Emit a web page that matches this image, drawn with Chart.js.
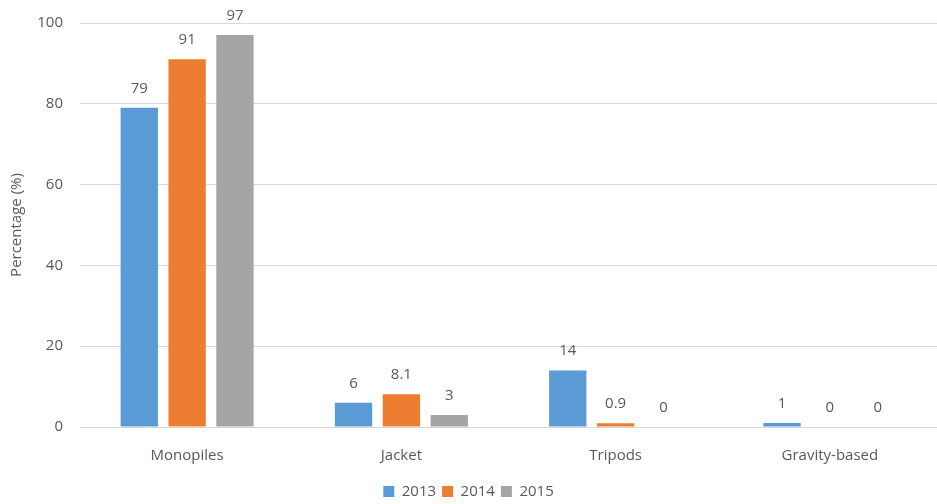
<!DOCTYPE html>
<html>
<head>
<meta charset="utf-8">
<script src="https://cdn.jsdelivr.net/npm/chart.js@4/dist/chart.umd.min.js"></script>
<style>
html,body{margin:0;padding:0;background:#fff}
#wrap{width:937px;height:504px}
</style>
</head>
<body>
<div id="wrap"><canvas id="c" width="937" height="504"></canvas></div>
<script>
const categories=['Monopiles','Jacket','Tripods','Gravity-based']
const years=['2013','2014','2015']
const values2013=[79,6,14,1]
const values2014=[91,8.1,0.9,0]
const values2015=[97,3,0,0]
const colors=['#5B9BD5','#ED7D31','#A5A5A5']
const textColor='#595959'
const font="'Open Sans', 'Liberation Sans', sans-serif"

// value labels above each bar
const barLabels={id:'barLabels',afterDatasetsDraw(chart){const ctx=chart.ctx
ctx.save()
ctx.font='15px '+font
ctx.fillStyle=textColor
ctx.textAlign='center'
ctx.textBaseline='bottom'
chart.data.datasets.forEach((ds,i)=>{chart.getDatasetMeta(i).data.forEach((bar,j)=>{ctx.fillText(String(ds.data[j]),bar.x,bar.y-12)})})
ctx.restore()}}

new Chart(document.getElementById('c'),{type:'bar',data:{labels:categories,datasets:[{label:years[0],data:values2013,backgroundColor:colors[0]},{label:years[1],data:values2014,backgroundColor:colors[1]},{label:years[2],data:values2015,backgroundColor:colors[2]}]},options:{responsive:false,animation:false,layout:{padding:{top:23,right:0,left:0,bottom:-5}},datasets:{bar:{categoryPercentage:0.67,barPercentage:0.78}},scales:{x:{grid:{display:false},border:{display:false},ticks:{color:textColor,font:{family:font,size:15},padding:12},afterFit(s){s.height=51}},y:{min:0,max:100,ticks:{stepSize:20,color:textColor,font:{family:font,size:15},padding:17},grid:{color:'#D9D9D9',drawTicks:false},border:{display:false},title:{display:true,text:'Percentage (%)',color:textColor,font:{family:font,size:15},padding:{top:8,bottom:6}},afterFit(s){s.width=80;s.paddingTop=0}}},plugins:{legend:{position:'bottom',labels:{color:textColor,font:{family:font,size:15},boxWidth:11,boxHeight:11,padding:6}},tooltip:{enabled:false}}},plugins:[barLabels]})
</script>
</body>
</html>
